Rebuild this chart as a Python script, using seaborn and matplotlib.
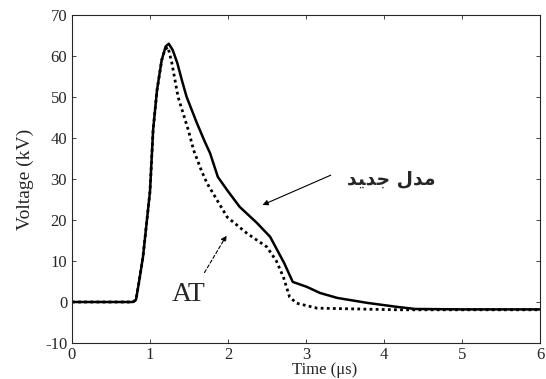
import numpy as np
import pandas as pd
import matplotlib
matplotlib.use("Agg")
import matplotlib.pyplot as plt
import seaborn as sns

# data
t_new = [0, 0.78, 0.82, 0.86, 0.91, 1.00, 1.04, 1.09, 1.15, 1.20, 1.24, 1.29, 1.35,
         1.41, 1.47, 1.60, 1.70, 1.77, 1.87, 2.00, 2.15, 2.37, 2.54, 2.63, 2.72, 2.83, 3.01, 3.18,
         3.40, 3.78, 4.17, 4.40, 5.00, 6.00]
v_new = [0, 0, 0.5, 5, 11, 27, 42, 51.7, 59, 62.3, 63, 61.5, 58.3,
         54, 50, 43.7, 39.2, 36.3, 30.5, 27.0, 23.2, 19.3, 15.9, 12.7, 9.5, 4.9, 3.7, 2.2,
         1.0, -0.2, -1.2, -1.7, -1.8, -1.8]

t_at = [0, 0.78, 0.82, 0.86, 0.91, 1.00, 1.04, 1.09, 1.15, 1.19, 1.23, 1.28, 1.36,
        1.49, 1.56, 1.66, 1.73, 1.99, 2.24, 2.50, 2.62, 2.71, 2.79, 2.88, 3.14,
        4.17, 6.00]
v_at = [0, 0, 0.5, 5, 11, 27, 42, 51.7, 59, 61.5, 62.2, 58.3, 50,
        42, 37, 32, 29, 20.7, 16.8, 13.4, 10, 6.1, 1.2, -0.3, -1.5,
        -1.9, -1.9]

x_ticks = [0, 1, 2, 3, 4, 5, 6]
y_ticks = [-10, 0, 10, 20, 30, 40, 50, 60, 70]

# "مدل جدید" written with presentation forms in visual order (no shaping in matplotlib)
label_new = "\ufeaa\ufef4\ufeaa\ufe9f \ufedd\ufeaa\ufee3"
label_at = "AT"

sns.set_style("ticks")
plt.rcParams['font.family'] = ['Liberation Serif', 'DejaVu Serif']
plt.rcParams['xtick.direction'] = 'in'
plt.rcParams['ytick.direction'] = 'in'
plt.rcParams['axes.unicode_minus'] = False

df_new = pd.DataFrame({'t': t_new, 'v': v_new})
df_at = pd.DataFrame({'t': t_at, 'v': v_at})

fig = plt.figure(figsize=(5.46, 3.79), dpi=100)
ax = fig.add_axes([72/546, 1-343/379, (540-72)/546, (343-15)/379])

sns.lineplot(data=df_new, x='t', y='v', ax=ax, color='black', linewidth=1.8)
sns.lineplot(data=df_at, x='t', y='v', ax=ax, color='black', linewidth=2.0,
             linestyle=(0, (1, 1.2)))

ax.set_xlim(0, 6)
ax.set_ylim(-10, 70)
ax.set_xticks(x_ticks)
ax.set_yticks(y_ticks)
ax.tick_params(top=True, right=True, length=3, width=0.6, labelsize=12)
ax.tick_params(axis='x', pad=3)
for s in ax.spines.values():
    s.set_linewidth(0.8)
    s.set_visible(True)

ax.set_xlabel('Time (\u03bcs)', fontsize=12, va='top')
ax.xaxis.set_label_coords(0.54, -0.058)
ax.set_ylabel('Voltage (kV)', fontsize=14, labelpad=8)

# annotations
ax.annotate('', xy=(2.41, 23.4), xytext=(3.35, 31.2),
            arrowprops=dict(arrowstyle='-|>', color='black', lw=0.8,
                            mutation_scale=8))
ax.text(3.53, 30.0, label_new, fontsize=13.5, fontweight='bold',
        family=['DejaVu Sans'], ha='left', va='center')

ax.annotate('', xy=(2.0, 16.8), xytext=(1.68, 6.6),
            arrowprops=dict(arrowstyle='-|>', color='black', lw=0.8,
                            linestyle=(0, (3, 2)), mutation_scale=8))
ax.text(1.28, -1.2, label_at, fontsize=20, ha='left', va='bottom')

fig.savefig('out.png', dpi=100)
